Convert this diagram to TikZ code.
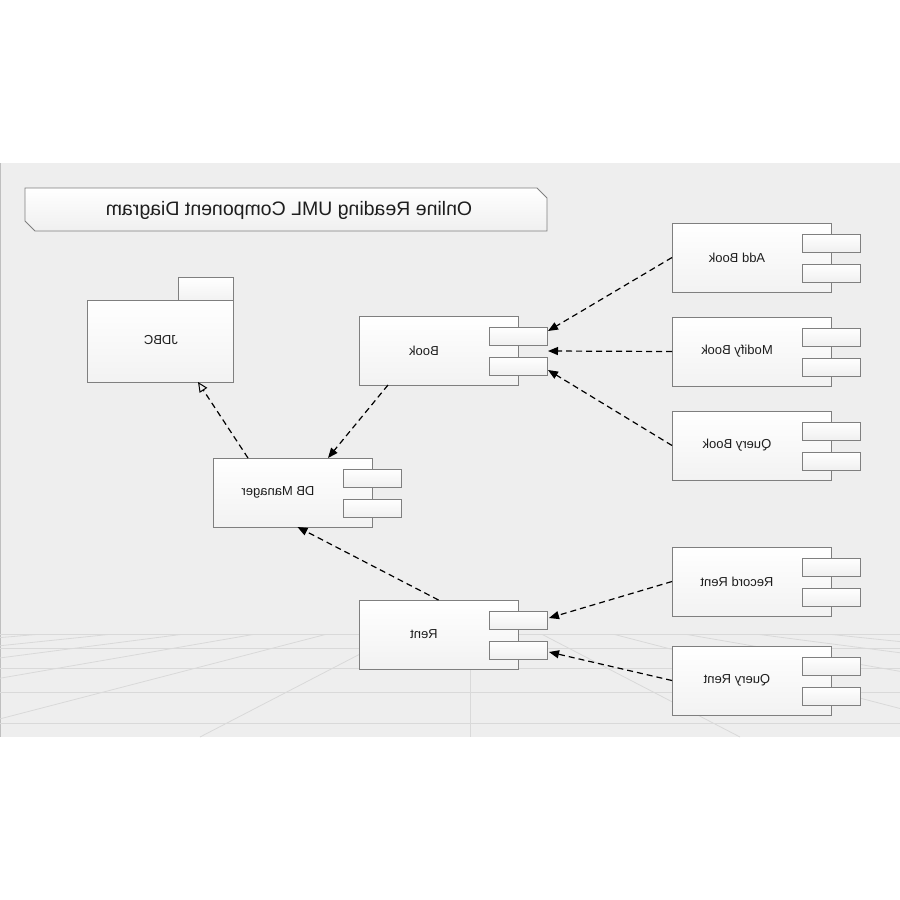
\documentclass[tikz,border=0pt]{standalone}
\usepackage{fontspec}
\setmainfont{Liberation Sans}
\usetikzlibrary{arrows.meta,calc}
\definecolor{panel}{HTML}{EEEEEE}
\definecolor{gridc}{HTML}{D9D9D9}
\definecolor{edge}{HTML}{7F7F7F}
\definecolor{txt}{HTML}{1E1E1E}
\newcommand{\umlcomp}[4]{%
  \node[comp, anchor=north west] (#1) at (#2,#3) {};
  \node[port, anchor=north west] (#1p1) at ($(#1.north east)+(-29,11)$) {};
  \node[port, anchor=north west] (#1p2) at ($(#1.north east)+(-29,41)$) {};
  \node[lbl] (#1l) at ($(#1.north west)+(65,34.5)$) {\reflectbox{#4}};
}
\begin{document}
\begin{tikzpicture}[x=1pt,y=-1pt,
  comp/.style={draw=edge, line width=0.9pt, top color=white, bottom color=black!5,
    minimum width=159pt, minimum height=69pt, inner sep=0pt, outer sep=0pt},
  port/.style={draw=edge, line width=0.9pt, top color=white, bottom color=black!6,
    minimum width=58pt, minimum height=18pt, inner sep=0pt, outer sep=0pt},
  lbl/.style={font=\fontsize{13}{15}\selectfont, text=txt, inner sep=0pt},
  dep/.style={draw=black, line width=1.2pt, dash pattern=on 6pt off 4pt,
    -{Triangle[length=10pt,width=8pt]}},
  real/.style={draw=black, line width=1.2pt, dash pattern=on 6pt off 4pt,
    -{Triangle[open,length=10pt,width=9pt,line width=1pt]}}
]
\useasboundingbox (0,0) rectangle (900,900);
% background panel
\fill[panel] (0,163) rectangle (900,737);
\draw[black!25, line width=1pt] (0.5,163) -- (0.5,737);
% perspective floor
\begin{scope}
  \clip (0,634) rectangle (900,737);
  \foreach \k in {-9,...,9} \draw[gridc, line width=0.8pt] (470,597) -- ({470+270*\k},737);
  \foreach \yy in {634,648,668,692,723} \draw[gridc, line width=0.9pt] (0,\yy) -- (900,\yy);
\end{scope}
% title banner
\draw[draw=edge, line width=0.9pt, top color=white, bottom color=black!6]
  (25,188) -- (537,188) -- (547,198) -- (547,231) -- (35,231) -- (25,221) -- cycle;
\node[font=\fontsize{19.5}{22}\selectfont, text=txt] (title) at (289,210)
  {\reflectbox{Online Reading UML Component Diagram}};
% JDBC package
\node[comp, anchor=north west, minimum width=55pt, minimum height=23pt] (jdbctab) at (178,277) {};
\node[comp, anchor=north west, minimum width=146pt, minimum height=82pt] (jdbc) at (87,300) {};
\node[lbl] (jdbcl) at (161,340) {\reflectbox{JDBC}};
% components
\umlcomp{book}{359}{316}{Book}
\umlcomp{db}{213}{458}{DB Manager}
\umlcomp{rent}{359}{600}{Rent}
\umlcomp{addbook}{672}{223}{Add Book}
\umlcomp{modbook}{672}{317}{Modify Book}
\umlcomp{qbook}{672}{411}{Query Book}
\umlcomp{rrent}{672}{547}{Record Rent}
\umlcomp{qrent}{672}{646}{Query Rent}
\coordinate (bookmid) at ($(bookp1.south east)!0.5!(bookp2.north east)$);
% connectors
\draw[real] ([xshift=35pt]db.north west) -- ([xshift=-35pt]jdbc.south east);
\draw[dep] ([xshift=29pt]book.south west) -- ([xshift=115pt]db.north west);
\draw[dep] (rent.north) -- ([xshift=5pt]db.south);
\draw[dep] (addbook.west) -- ([xshift=1pt,yshift=-4pt]bookp1.north east);
\draw[dep] (modbook.west) -- ([xshift=1pt]bookmid);
\draw[dep] (qbook.west) -- ([xshift=1pt,yshift=-13pt]bookp2.north east);
\draw[dep] (rrent.west) -- ([xshift=2pt,yshift=-7pt]rentp1.north east);
\draw[dep] (qrent.west) -- ([xshift=2pt,yshift=-11pt]rentp2.north east);
\end{tikzpicture}
\end{document}
